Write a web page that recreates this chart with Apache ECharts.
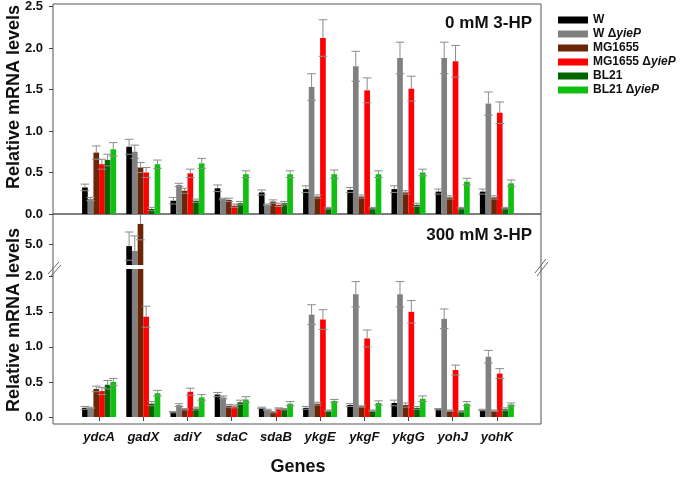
<!DOCTYPE html>
<html><head><meta charset="utf-8">
<script src="https://cdn.jsdelivr.net/npm/echarts@6/dist/echarts.min.js"></script>
<style>html,body{margin:0;padding:0;background:#fff}#c{width:685px;height:477px}</style>
</head><body><div id="c"></div>
<script>
// ---------- data ----------
const genes = ['ydcA','gadX','adiY','sdaC','sdaB','ykgE','ykgF','ykgG','yohJ','yohK'];
const strains = ['W','W ΔyieP','MG1655','MG1655 ΔyieP','BL21','BL21 ΔyieP'];
const yTicksTop = [0, 0.5, 1.0, 1.5, 2.0, 2.5];
const yTicksLow = [0, 0.5, 1.0, 1.5, 2.0];
const yTicksHigh = [5.0];

// 0 mM 3-HP
const hp0_W          = [0.32, 0.81, 0.16, 0.31, 0.26, 0.30, 0.29, 0.30, 0.27, 0.27];
const hp0_W_err      = [0.04, 0.09, 0.04, 0.04, 0.03, 0.04, 0.03, 0.04, 0.03, 0.03];
const hp0_Wd         = [0.18, 0.75, 0.35, 0.18, 0.11, 1.53, 1.78, 1.88, 1.88, 1.33];
const hp0_Wd_err     = [0.02, 0.08, 0.02, 0.01, 0.01, 0.16, 0.18, 0.19, 0.19, 0.14];
const hp0_MG         = [0.74, 0.56, 0.28, 0.17, 0.15, 0.21, 0.21, 0.26, 0.20, 0.20];
const hp0_MG_err     = [0.08, 0.06, 0.03, 0.02, 0.02, 0.02, 0.02, 0.02, 0.02, 0.02];
const hp0_MGd        = [0.60, 0.50, 0.49, 0.10, 0.11, 2.12, 1.49, 1.51, 1.84, 1.22];
const hp0_MGd_err    = [0.06, 0.06, 0.05, 0.02, 0.02, 0.22, 0.15, 0.15, 0.19, 0.13];
const hp0_BL         = [0.65, 0.06, 0.16, 0.13, 0.13, 0.07, 0.07, 0.11, 0.07, 0.07];
const hp0_BL_err     = [0.07, 0.02, 0.02, 0.02, 0.02, 0.01, 0.01, 0.02, 0.01, 0.01];
const hp0_BLd        = [0.78, 0.60, 0.61, 0.48, 0.48, 0.48, 0.48, 0.50, 0.39, 0.37];
const hp0_BLd_err    = [0.08, 0.05, 0.06, 0.04, 0.04, 0.05, 0.04, 0.04, 0.04, 0.04];

// 300 mM 3-HP
const hp300_W        = [0.13, 4.93, 0.07, 0.32, 0.13, 0.13, 0.17, 0.20, 0.11, 0.10];
const hp300_W_err    = [0.02, 0.47, 0.01, 0.03, 0.01, 0.02, 0.02, 0.04, 0.01, 0.01];
const hp300_Wd       = [0.13, 4.77, 0.17, 0.28, 0.10, 1.46, 1.75, 1.75, 1.40, 0.86];
const hp300_Wd_err   = [0.01, 0.50, 0.02, 0.02, 0.01, 0.14, 0.18, 0.18, 0.14, 0.09];
const hp300_MG       = [0.40, 5.67, 0.11, 0.16, 0.07, 0.19, 0.15, 0.17, 0.09, 0.09];
const hp300_MG_err   = [0.04, 0.53, 0.01, 0.02, 0.01, 0.02, 0.01, 0.03, 0.01, 0.01];
const hp300_MGd      = [0.37, 1.43, 0.36, 0.15, 0.12, 1.39, 1.12, 1.50, 0.67, 0.62];
const hp300_MGd_err  = [0.05, 0.15, 0.05, 0.02, 0.01, 0.14, 0.12, 0.16, 0.07, 0.07];
const hp300_BL       = [0.46, 0.19, 0.12, 0.21, 0.11, 0.09, 0.09, 0.13, 0.08, 0.11];
const hp300_BL_err   = [0.06, 0.03, 0.02, 0.03, 0.01, 0.01, 0.01, 0.02, 0.01, 0.02];
const hp300_BLd      = [0.50, 0.34, 0.28, 0.25, 0.19, 0.23, 0.20, 0.26, 0.19, 0.18];
const hp300_BLd_err  = [0.05, 0.04, 0.04, 0.04, 0.03, 0.02, 0.03, 0.04, 0.03, 0.02];

// ---------- styling ----------
const FONT = "'Liberation Sans', Arial, sans-serif";
const colors = ['#000000', '#808080', '#6b2607', '#ff0000', '#006400', '#10c010'];
const CAT_GAP = 0.23;
const ERR_COLOR = '#8c8c8c';

const panel0 = [[hp0_W,hp0_W_err],[hp0_Wd,hp0_Wd_err],[hp0_MG,hp0_MG_err],[hp0_MGd,hp0_MGd_err],[hp0_BL,hp0_BL_err],[hp0_BLd,hp0_BLd_err]];
const panel300 = [[hp300_W,hp300_W_err],[hp300_Wd,hp300_Wd_err],[hp300_MG,hp300_MG_err],[hp300_MGd,hp300_MGd_err],[hp300_BL,hp300_BL_err],[hp300_BLd,hp300_BLd_err]];

function errRender(si) {
  return function (params, api) {
    const ci = api.value(0), v = api.value(1), e = api.value(2);
    const band = api.size([1, 0])[0];
    const bw = band * (1 - CAT_GAP) / 6;
    const x = api.coord([ci, v])[0] + (si - 2.5) * bw;
    const yV = api.coord([ci, v])[1];
    const yT = api.coord([ci, v + e])[1];
    const yB = api.coord([ci, v - e])[1];
    const hw = 4.3;
    const st = { stroke: ERR_COLOR, lineWidth: 1 };
    return { type: 'group', children: [
      { type: 'line', shape: { x1: x, y1: yT, x2: x, y2: yV }, style: st },
      { type: 'line', shape: { x1: x - hw, y1: yT, x2: x + hw, y2: yT }, style: st },
      { type: 'line', shape: { x1: x - hw, y1: yB, x2: x + hw, y2: yB }, style: st }
    ]};
  };
}

const series = [];
function addPanel(panel, axisIdx) {
  panel.forEach(([vals, errs], si) => {
    series.push({
      type: 'bar', name: strains[si], xAxisIndex: axisIdx, yAxisIndex: axisIdx,
      data: vals, barGap: '0%', barCategoryGap: (CAT_GAP * 100) + '%',
      itemStyle: { color: colors[si] }, clip: true, silent: true
    });
  });
  panel.forEach(([vals, errs], si) => {
    series.push({
      type: 'custom', name: 'err' + axisIdx + '_' + si, xAxisIndex: axisIdx, yAxisIndex: axisIdx,
      data: genes.map((g, i) => [i, vals[i], errs[i]]),
      encode: { x: 0, y: 1 }, renderItem: errRender(si), clip: true, z: 5, silent: true
    });
  });
}
addPanel(panel0, 2);
addPanel(panel300, 3);
addPanel(panel300, 4);

const LEFT = 77, WIDTH = 442;
const labelStyle = { fontFamily: FONT, fontWeight: 'bold', fontSize: 13, color: '#111', margin: 10,
  formatter: v => Number(v).toFixed(1) };
const tick = { show: true, inside: false, length: 4, lineStyle: { color: '#444' } };

const option = {
  animation: false,
  backgroundColor: '#fff',
  grid: [
    { left: 53, top: 4, width: 488, height: 210, show: true, borderColor: '#555', borderWidth: 1, backgroundColor: 'transparent' },
    { left: 53, top: 214, width: 488, height: 210, show: true, borderColor: '#555', borderWidth: 1, backgroundColor: 'transparent' },
    { left: LEFT, top: 4, width: WIDTH, height: 210 },
    { left: LEFT, top: 214, width: WIDTH, height: 51 },
    { left: LEFT, top: 269, width: WIDTH, height: 155 }
  ],
  xAxis: [
    { gridIndex: 0, type: 'value', show: false },
    { gridIndex: 1, type: 'value', show: false },
    { gridIndex: 2, type: 'category', data: genes, axisLine: { show: false }, axisTick: { show: false }, axisLabel: { show: false } },
    { gridIndex: 3, type: 'category', data: genes, show: false },
    { gridIndex: 4, type: 'category', data: genes, axisLine: { show: false },
      axisTick: { show: true, alignWithLabel: true, length: 4, lineStyle: { color: '#444' } },
      axisLabel: { fontFamily: FONT, fontWeight: 'bold', fontStyle: 'italic', fontSize: 13, color: '#111', margin: 14 },
      name: 'Genes', nameLocation: 'middle', nameGap: 41,
      nameTextStyle: { fontFamily: FONT, fontWeight: 'bold', fontSize: 18, color: '#111' } }
  ],
  yAxis: [
    { gridIndex: 0, type: 'value', show: false },
    { gridIndex: 1, type: 'value', show: false },
    { gridIndex: 2, type: 'value', min: 0, max: 2.5, offset: 24, splitLine: { show: false },
      axisLine: { show: false }, axisTick: Object.assign({}, tick, { customValues: yTicksTop }),
      axisLabel: Object.assign({}, labelStyle, { customValues: yTicksTop }) },
    { gridIndex: 3, type: 'value', min: 4.3, max: 6.0, offset: 24, splitLine: { show: false },
      axisLine: { show: false }, axisTick: Object.assign({}, tick, { customValues: yTicksHigh }),
      axisLabel: Object.assign({}, labelStyle, { customValues: yTicksHigh }) },
    { gridIndex: 4, type: 'value', min: 0, max: 2.11, offset: 24, splitLine: { show: false },
      axisLine: { show: false }, axisTick: Object.assign({}, tick, { customValues: yTicksLow }),
      axisLabel: Object.assign({}, labelStyle, { customValues: yTicksLow }) }
  ],
  legend: {
    data: strains, orient: 'vertical', left: 553, top: 9,
    itemWidth: 30, itemHeight: 7, itemGap: 2, icon: 'rect',
    textStyle: { fontFamily: FONT, fontWeight: 'bold', fontSize: 12, color: '#111',
      rich: {
        a: { fontFamily: FONT, fontWeight: 'bold', fontSize: 12, color: '#111' },
        b: { fontFamily: FONT, fontWeight: 'bold', fontStyle: 'italic', fontSize: 12, color: '#111' }
      } },
    formatter: n => { const k = n.indexOf('Δ'); return k < 0 ? '{a|' + n + '}' : '{a|' + n.slice(0, k + 1) + '}{b|' + n.slice(k + 1) + '}'; }
  },
  graphic: [
    { type: 'text', x: 14, y: 97, rotation: Math.PI / 2,
      style: { text: 'Relative mRNA levels', font: 'bold 18px ' + FONT, fill: '#111', textAlign: 'center', textVerticalAlign: 'middle' } },
    { type: 'text', x: 14, y: 320, rotation: Math.PI / 2,
      style: { text: 'Relative mRNA levels', font: 'bold 18px ' + FONT, fill: '#111', textAlign: 'center', textVerticalAlign: 'middle' } },
    { type: 'text', x: 532, y: 23,
      style: { text: '0 mM 3-HP', font: 'bold 17px ' + FONT, fill: '#111', textAlign: 'right', textVerticalAlign: 'middle' } },
    { type: 'text', x: 532, y: 235,
      style: { text: '300 mM 3-HP', font: 'bold 17px ' + FONT, fill: '#111', textAlign: 'right', textVerticalAlign: 'middle' } },
    // axis break marks
    { type: 'line', shape: { x1: 48, y1: 274, x2: 59, y2: 262 }, style: { stroke: '#666', lineWidth: 1 } },
    { type: 'line', shape: { x1: 50, y1: 277, x2: 61, y2: 265 }, style: { stroke: '#666', lineWidth: 1 } },
    { type: 'line', shape: { x1: 535, y1: 273, x2: 546, y2: 259 }, style: { stroke: '#666', lineWidth: 1 } },
    { type: 'line', shape: { x1: 537, y1: 276, x2: 548, y2: 262 }, style: { stroke: '#666', lineWidth: 1 } }
  ],
  series: series
};
const chart = echarts.init(document.getElementById('c'), null, { renderer: 'canvas' });
chart.setOption(option);
</script></body></html>
